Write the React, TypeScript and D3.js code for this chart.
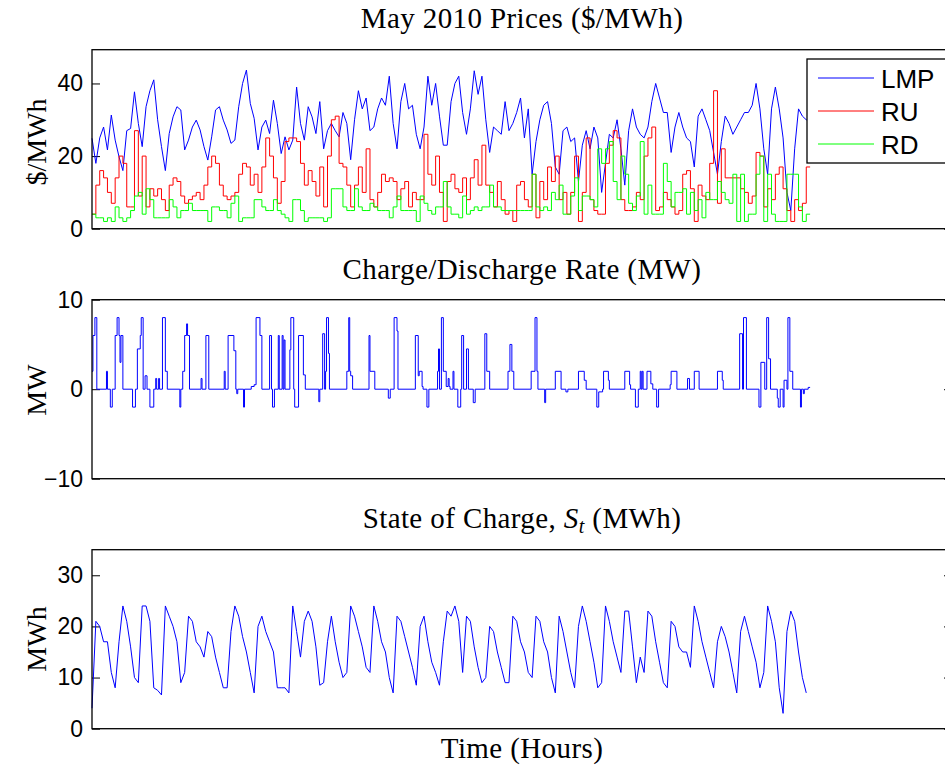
import React, { useEffect, useRef } from 'react';
import * as d3 from 'd3';

// May 2010, every 4 hours (744 h in the month)
const sampleStep = 4;
const monthHours = 744;

const lmp = [
  24.9, 18, 25, 28, 21.7, 31.3, 24.4, 19.8, 16, 27, 27.6, 37.7, 29, 22.6, 33.6, 38, 41, 30, 22.6, 16,
  26.2, 30.8, 33.6, 32.7, 21.7, 24.4, 28, 29.9, 27.2, 22.6, 18.9, 25.3, 32.7, 33.6, 29.9, 27.2, 23.5, 24.4, 33.6, 40,
  43.7, 34.5, 30.4, 21.7, 28, 29.9, 26.2, 35.4, 29, 20.7, 25.3, 21.7, 24.4, 39, 29, 24.4, 33.6, 30.8, 26.2, 35,
  22, 27, 29, 27, 25.3, 32, 29, 19, 30, 38, 33, 36, 27, 28, 33, 36, 34, 42, 29, 22,
  35, 40, 33, 34, 26, 22, 28, 42, 34, 40, 31, 23, 23, 35, 40, 42, 32, 26, 33, 43.5,
  37, 42, 30, 21, 28, 27, 26, 35, 27, 29, 32, 36, 25, 33, 15, 24, 30, 34, 35, 29,
  17, 15, 27, 28, 24, 25, 13, 23, 27, 22, 28, 25, 10, 18, 26, 25, 30, 22, 12, 27,
  33, 28, 26, 25, 28, 35, 40, 36, 32, 32, 21, 28, 32, 28, 25, 24, 17, 31, 33, 30,
  27, 21, 15, 24, 31, 29, 26, 28, 30, 32, 32, 34, 40, 33, 22, 15, 33, 39, 33, 25,
  10, 5, 22, 33, 31, 30,
];

const ru = [
  4, 12, 16, 14, 10, 7, 14, 20, 18, 6, 6, 27, 9, 20, 6, 11, 9, 11, 8, 5,
  12, 14, 13, 9, 7, 8, 9, 10, 8, 12, 17, 20, 18, 12, 9, 8, 9, 10, 15, 18,
  17, 12, 15, 10, 17, 25, 20, 14, 7, 13, 24, 25, 25, 24, 18, 12, 16, 13, 9, 17,
  6, 20, 30, 31, 18, 17, 12, 6, 12, 17, 10, 22, 8, 6, 10, 15, 13, 14, 13, 8,
  11, 13, 6, 10, 8, 8, 26, 15, 12, 20, 10, 2, 13, 15, 11, 10, 14, 8, 14, 19,
  12, 23, 12, 10, 6, 13, 8, 4, 5, 2, 12, 13, 8, 6, 15, 3, 13, 8, 17, 13,
  20, 8, 10, 4, 10, 20, 2, 10, 25, 8, 5, 4, 4, 18, 23, 27, 25, 8, 5, 5,
  6, 10, 8, 20, 25, 28, 5, 6, 10, 8, 6, 4, 5, 15, 16, 11, 2, 12, 9, 8,
  18, 38, 7, 22, 14, 14, 14, 14, 11, 10, 7, 9, 21, 20, 6, 11, 8, 15, 17, 11,
  5, 2, 8, 5, 7, 17,
];

const rd = [
  4, 3, 3, 2, 3, 2, 6, 3, 2, 3, 5, 9, 10, 4, 11, 8, 3, 3, 3, 3,
  8, 6, 3, 5, 5, 7, 5, 5, 5, 5, 2, 6, 6, 5, 5, 3, 7, 9, 2, 3,
  3, 3, 8, 8, 6, 5, 5, 8, 5, 4, 3, 2, 8, 8, 5, 2, 3, 3, 3, 3,
  2, 3, 11, 11, 11, 6, 5, 5, 11, 6, 5, 5, 7, 6, 5, 5, 5, 3, 6, 9,
  5, 5, 5, 5, 2, 9, 7, 5, 4, 6, 6, 13, 6, 4, 4, 3, 9, 4, 5, 6,
  5, 6, 6, 12, 6, 6, 5, 5, 5, 5, 5, 5, 5, 5, 15, 6, 5, 6, 5, 10,
  8, 12, 4, 4, 9, 14, 5, 9, 9, 8, 6, 22, 18, 22, 24, 13, 8, 20, 15, 7,
  5, 9, 24, 4, 12, 4, 4, 4, 18, 13, 6, 10, 10, 11, 4, 10, 5, 8, 3, 10,
  8, 8, 13, 10, 8, 7, 15, 2, 15, 2, 4, 4, 15, 20, 2, 15, 4, 2, 2, 2,
  15, 15, 15, 6, 2, 4,
];

const soc = [
  4, 21, 20, 17, 17, 11, 8, 17, 24, 21, 16, 10, 9, 24, 24, 21, 8, 7.5, 6.6, 24,
  22, 20, 17, 9, 11, 22, 21, 17, 16, 14, 19, 18, 14, 11, 8, 8, 19, 24, 22, 18,
  15, 11, 7, 20, 22, 19, 17, 15, 8, 8, 8, 7, 24, 19, 14, 21, 23, 21, 16, 8.5,
  9, 17, 22, 17, 13, 10, 11, 24, 22, 19, 16, 12, 11, 24, 21, 17, 15, 10, 7, 22,
  21, 18, 15, 12, 8.5, 20, 22, 17, 13, 11, 8.5, 17, 23, 22, 24, 21, 11, 22, 21, 16,
  12, 9, 10, 20, 19, 15, 12, 9, 9, 22, 21, 17, 15, 11, 10, 22, 21, 17, 15, 10,
  7, 22, 19, 15, 11, 8, 20, 24, 21, 17, 13, 8, 9, 24, 21, 17, 14, 11, 23, 23,
  16, 9, 14, 11, 23, 22, 17, 13, 9, 8, 21, 20, 16, 15, 15, 12, 24, 21, 17, 14,
  11, 8, 17, 20, 18, 15, 11, 7, 19, 22, 19, 16, 13, 8, 11, 24, 21, 17, 8, 3,
  19, 23, 21, 15, 10, 7,
];

// charge/discharge rate: hour at which a new rate starts, and that rate (MW)
const rateHour = [
  0, 1, 3, 5, 15, 16, 19, 21, 24, 26, 28, 29, 30, 32, 42, 45, 47, 50, 51, 53,
  55, 57, 60, 64, 66, 67, 69, 70, 73, 76, 78, 91, 92, 94, 96, 98, 99, 101, 113, 114,
  118, 121, 137, 138, 141, 147, 149, 150, 151, 157, 158, 165, 168, 170, 174, 176, 184, 186, 187, 189,
  193, 194, 197, 198, 199, 200, 205, 206, 209, 210, 214, 219, 221, 235, 236, 239, 241, 242, 243, 245,
  246, 264, 266, 267, 268, 270, 287, 288, 293, 307, 309, 313, 316, 317, 335, 338, 339, 342, 343, 347,
  349, 358, 359, 360, 362, 364, 367, 369, 370, 371, 374, 375, 379, 382, 383, 385, 388, 390, 395, 397,
  407, 409, 412, 431, 433, 435, 437, 455, 459, 461, 462, 469, 470, 480, 486, 491, 493, 504, 510, 512,
  523, 525, 529, 530, 535, 536, 552, 557, 558, 563, 566, 568, 569, 570, 571, 575, 579, 581, 585, 587,
  599, 600, 606, 617, 619, 624, 629, 648, 653, 654, 671, 674, 675, 678, 691, 693, 697, 699, 701, 703,
  710, 711, 713, 716, 717, 720, 721, 723, 726, 734, 735, 737, 738, 742,
];
const rateMW = [
  2, 6, 8, 0, 2, 0, -2, 0, 6, 8, 6, 3, 6, 0, -2, 0, 4.5, 6, 8, 0,
  1.5, 0, -2, 0, 1.2, 0, 1.2, 0, 8, 2, 0, -2, 0, 2, 6, 7.3, 6, 0, 1.2, 0,
  6, 0, 2, 0, 6, 4.3, 0, -0.5, 0, -2, 0, 0.3, 0.5, 8, 6, 0, 6, 0, -2, 0,
  6, 0, 6, 0, 5.5, 0, 4.4, 8, 0, -2, 6, 1.6, 0, -1.4, 0, 6.2, 0, 2, 8, 4,
  0, 2, 8, 2, 1.5, 0, 6, 2, 0, -1, 0, 8, 6.5, 0, 6, 1.5, 2, 0.3, 0, -2,
  0, 2, 4.5, 0, 8, 2, 0.3, 1.2, 0.3, 0, 2, 0, -2, 0, 6, 0, 4.5, 0, -1.5, 0,
  6.2, 2, 0, 2, 5, 2, 0, 2, 8, 2, 0, -1.5, 0, 2, 0, -0.3, 0, 2, 1, 0,
  -2, -0.3, 0, 2, 1, 0, 2, 0.5, 0, -2, 0, 2, 0, 2, 0, 2, 0.6, 0, -2, 0,
  0.5, 2, 0, 1.2, 0, 2, 0, 2, 1, 0, 6.2, 0, 8, 0, -2, 3, 0, 8, 3.4, 0,
  -1, -2, 0, -2, 1, 0, 8, 2, 0, -2, 0, -0.5, 0, 0.2,
];

const legendNames = ['LMP', 'RU', 'RD'];
const legendColors = ['#0000ff', '#ff0000', '#00ff00'];

const SERIF = '"Liberation Serif", "DejaVu Serif", serif';
const SANS = '"Liberation Sans", Arial, sans-serif';
const LEFT = 92;
const RIGHT = 952;

const App: React.FC = () => {
  const ref = useRef<SVGSVGElement>(null);

  useEffect(() => {
    const svg = d3.select(ref.current);
    svg.selectAll('*').remove();

    const x = d3.scaleLinear().domain([0, 891]).range([LEFT, RIGHT]);

    const stepped = (vals: number[]) => {
      const pts: [number, number][] = vals.map((v, i) => [i * sampleStep, v]);
      pts.push([monthHours, vals[vals.length - 1]]);
      return pts;
    };

    const panel = (top: number, bottom: number, domain: [number, number], ticks: number[]) => {
      const y = d3.scaleLinear().domain(domain).range([bottom, top]);
      const g = svg.append('g');
      const leftAxis = d3.axisLeft(y).tickValues(ticks).tickSizeInner(-8).tickSizeOuter(0).tickPadding(9);
      const ax = g.append('g').attr('transform', `translate(${LEFT},0)`).call(leftAxis);
      ax.select('.domain').remove();
      ax.selectAll('text').attr('font-family', SANS).attr('font-size', 23).attr('fill', '#000');
      const rightAxis = d3.axisRight(y).tickValues(ticks).tickSizeInner(-8).tickSizeOuter(0).tickFormat(() => '');
      const rx = g.append('g').attr('transform', `translate(${RIGHT},0)`).call(rightAxis);
      rx.select('.domain').remove();
      return { y, g };
    };

    const drawBox = (top: number, bottom: number) => {
      svg.append('rect')
        .attr('x', LEFT).attr('y', top)
        .attr('width', RIGHT - LEFT).attr('height', bottom - top)
        .attr('fill', 'none').attr('stroke', '#000').attr('stroke-width', 1.3);
    };

    const title = (txt: string, yPos: number) =>
      svg.append('text')
        .attr('x', (LEFT + RIGHT) / 2).attr('y', yPos)
        .attr('text-anchor', 'middle')
        .attr('font-family', SERIF).attr('font-size', 29)
        .attr('letter-spacing', 0.4)
        .text(txt);

    const yLabel = (txt: string, yMid: number) =>
      svg.append('text')
        .attr('transform', `translate(46,${yMid}) rotate(-90)`)
        .attr('text-anchor', 'middle')
        .attr('font-family', SERIF).attr('font-size', 28)
        .text(txt);

    // --- prices
    const p1 = panel(49.7, 228.7, [0, 49.3], [0, 20, 40]);
    const stepLine = d3.line<[number, number]>()
      .x((d) => x(d[0])).y((d) => p1.y(d[1]))
      .curve(d3.curveStepAfter);
    const lmpLine = d3.line<[number, number]>()
      .x((d) => x(d[0])).y((d) => p1.y(d[1]));
    [lmp, ru, rd].forEach((s, k) => {
      p1.g.append('path')
        .datum(stepped(s))
        .attr('fill', 'none')
        .attr('stroke', legendColors[k])
        .attr('stroke-width', 1)
        .attr('d', k === 0 ? lmpLine : stepLine);
    });
    drawBox(49.7, 228.7);
    title('May 2010 Prices ($/MWh)', 28);
    yLabel('$/MWh', 142);

    // legend
    const lg = svg.append('g');
    lg.append('rect')
      .attr('x', 807).attr('y', 59).attr('width', 200).attr('height', 104)
      .attr('fill', '#fff').attr('stroke', '#000').attr('stroke-width', 1.3);
    legendNames.forEach((name, k) => {
      const ly = 78 + k * 33;
      lg.append('line')
        .attr('x1', 818).attr('x2', 874).attr('y1', ly).attr('y2', ly)
        .attr('stroke', legendColors[k]).attr('stroke-width', 1);
      lg.append('text')
        .attr('x', 881).attr('y', ly + 9.5)
        .attr('font-family', SANS).attr('font-size', 26)
        .text(name);
    });

    // --- charge / discharge rate
    const p2 = panel(299.7, 478.7, [-10, 10], [-10, 0, 10]);
    const ratePts: [number, number][] = rateHour.map((h, i) => [h, rateMW[i]]);
    ratePts.push([monthHours, rateMW[rateMW.length - 1]]);
    p2.g.append('path')
      .datum(ratePts)
      .attr('fill', 'none')
      .attr('stroke', '#0000ff')
      .attr('stroke-width', 1)
      .attr('d', d3.line<[number, number]>()
        .x((d) => x(d[0])).y((d) => p2.y(d[1]))
        .curve(d3.curveStepAfter));
    drawBox(299.7, 478.7);
    title('Charge/Discharge Rate (MW)', 279);
    yLabel('MW', 390);

    // --- state of charge
    const p3 = panel(549.7, 728.7, [0, 35], [0, 10, 20, 30]);
    p3.g.append('path')
      .datum(soc.map((v, i) => [i * sampleStep, v] as [number, number]))
      .attr('fill', 'none')
      .attr('stroke', '#0000ff')
      .attr('stroke-width', 1)
      .attr('d', d3.line<[number, number]>()
        .x((d) => x(d[0])).y((d) => p3.y(d[1])));
    drawBox(549.7, 728.7);

    const t3 = svg.append('text')
      .attr('x', (LEFT + RIGHT) / 2).attr('y', 528)
      .attr('text-anchor', 'middle')
      .attr('font-family', SERIF).attr('font-size', 29)
      .attr('letter-spacing', 0.4);
    t3.append('tspan').text('State of Charge, ');
    t3.append('tspan').attr('font-style', 'italic').text('S');
    t3.append('tspan').attr('font-style', 'italic').attr('font-size', 20).attr('dy', 5).text('t');
    t3.append('tspan').attr('dy', -5).text(' (MWh)');
    yLabel('MWh', 639);

    svg.append('text')
      .attr('x', (LEFT + RIGHT) / 2).attr('y', 758)
      .attr('text-anchor', 'middle')
      .attr('font-family', SERIF).attr('font-size', 29)
      .attr('letter-spacing', 0.4)
      .text('Time (Hours)');
  }, []);

  return (
    <svg
      ref={ref}
      width={945}
      height={769}
      style={{ position: 'absolute', left: 0, top: 0, background: '#fff' }}
    />
  );
};

export default App;
